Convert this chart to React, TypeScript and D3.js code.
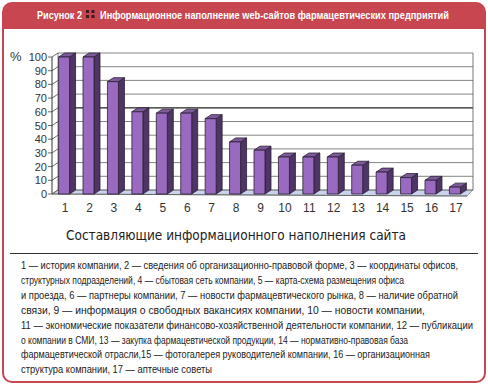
import { scaleBand, scaleLinear } from 'd3'

const categories = ['1', '2', '3', '4', '5', '6', '7', '8', '9', '10', '11', '12', '13', '14', '15', '16', '17']
const values = [100, 100, 82, 60, 59, 59, 55, 38, 32, 27, 27, 27, 21, 16, 12, 10, 5]
const yTicks = [0, 10, 20, 30, 40, 50, 60, 70, 80, 90, 100]

const title = 'Рисунок 2'
const titleRest = 'Информационное наполнение web-сайтов фармацевтических предприятий'
const axisTitle = 'Составляющие информационного наполнения сайта'
const notes = [
	'1 — история компании, 2 — сведения об организационно-правовой форме, 3 — координаты офисов,',
	'структурных подразделений, 4 — сбытовая сеть компании, 5 — карта-схема размещения офиса',
	'и проезда, 6 — партнеры компании, 7 — новости фармацевтического рынка, 8 — наличие обратной',
	'связи, 9 — информация о свободных вакансиях компании, 10 — новости компании,',
	'11 — экономические показатели финансово-хозяйственной деятельности компании, 12 — публикации',
	'о компании в СМИ, 13 — закупка фармацевтической продукции, 14 — нормативно-правовая база',
	'фармацевтической отрасли,15 — фотогалерея руководителей компании, 16 — организационная',
	'структура компании, 17 — аптечные советы',
]
const noteWidths = [437, 383, 437, 404, 452, 387, 409, 191]

const red = '#c7464f'
const narrow = 'Liberation Sans Narrow, Arial Narrow, Arial, sans-serif'
const dx = 6
const dy = -4

export default function App() {
	const x = scaleBand().domain(categories).range([52, 467]).paddingInner(0.55).paddingOuter(0.27)
	const y = scaleLinear().domain([0, 100]).range([194, 57])
	const w = x.bandwidth()
	const y0 = y(0)
	const left = 52
	const right = 467

	return (
		<svg width={488} height={385} style={{ position: 'absolute', left: 0, top: 0 }} fontFamily='Arial, Liberation Sans, sans-serif'>
			{/* frame + header band */}
			<rect x={3} y={3} width={482} height={379} rx={9} fill='#fff' stroke={red} strokeWidth={2} />
			<path d='M3,29 V12 Q3,3 12,3 H476 Q485,3 485,12 V29 Z' fill={red} />
			<text x={37} y={19} fill='#fff' fontSize={11} fontWeight='bold' fontFamily={narrow} textLength={45} lengthAdjust='spacingAndGlyphs'>{title}</text>
			{[[86, 10], [86, 15], [91.5, 10], [91.5, 15]].map(([sx, sy], i) => (
				<rect key={i} x={sx} y={sy} width={3} height={3} fill='#3b1a20' />
			))}
			<text x={100} y={19} fill='#fff' fontSize={11} fontWeight='bold' fontFamily={narrow} textLength={349} lengthAdjust='spacingAndGlyphs'>{titleRest}</text>

			{/* floor */}
			<path d={`M${left},${y0} L${left + dx},${y0 + dy} L${right + dx},${y0 + dy} L${right},${y0 + 2} Z`} fill='#c9d4ec' stroke='#777' strokeWidth={0.6} />

			{/* back wall grid */}
			{yTicks.map((t) => (
				<g key={t}>
					<line x1={left + dx} x2={right + dx} y1={y(t) + dy} y2={y(t) + dy} stroke={t === 60 ? '#222' : '#666'} strokeWidth={t === 60 ? 1.2 : 0.8} />
					<line x1={left} x2={left + dx} y1={y(t)} y2={y(t) + dy} stroke='#444' strokeWidth={0.8} />
					<line x1={left - 4} x2={left} y1={y(t)} y2={y(t)} stroke='#444' strokeWidth={0.8} />
					<text x={47} y={y(t) + 4} textAnchor='end' fontSize={11} fill='#333'>{t}</text>
				</g>
			))}
			<line x1={left + dx} x2={left + dx} y1={y(100) + dy} y2={y0 + dy} stroke='#666' strokeWidth={0.8} />
			<line x1={right + dx} x2={right + dx} y1={y(100) + dy} y2={y0 + dy} stroke='#555' strokeWidth={0.8} />
			<line x1={left} x2={left} y1={y(100)} y2={y0} stroke='#333' strokeWidth={1} />
			<line x1={left} x2={right} y1={y0} y2={y0 + 2} stroke='#555' strokeWidth={0.8} />
			<text x={10} y={61} fontSize={13} fill='#333'>%</text>

			{/* bars */}
			{categories.map((c, i) => {
				const bx = x(c)!
				const by = y(values[i])
				return (
					<g key={c} stroke='#2a1f33' strokeWidth={0.8} strokeLinejoin='round'>
						<path d={`M${bx + w},${by} L${bx + w + dx},${by + dy} L${bx + w + dx},${y0 + dy} L${bx + w},${y0} Z`} fill='#4f3466' />
						<path d={`M${bx},${by} L${bx + dx},${by + dy} L${bx + w + dx},${by + dy} L${bx + w},${by} Z`} fill='#7d5a9a' />
						<rect x={bx} y={by} width={w} height={y0 - by} fill='#9a6ac0' />
					</g>
				)
			})}

			{/* category labels */}
			{categories.map((c) => (
				<text key={c} x={x(c)! + w / 2 + 1} y={212} textAnchor='middle' fontSize={12} fill='#333'>{c}</text>
			))}

			<text x={66} y={240} fontSize={14} fill='#222' fontFamily='DejaVu Sans, sans-serif' textLength={340} lengthAdjust='spacingAndGlyphs'>{axisTitle}</text>

			<line x1={10} x2={478} y1={253.5} y2={253.5} stroke='#333' strokeWidth={1} />

			{notes.map((n, i) => (
				<text key={i} x={21} y={269 + i * 14.9} fontSize={10.5} fill='#222' fontFamily={narrow} textLength={noteWidths[i]} lengthAdjust='spacingAndGlyphs'>{n}</text>
			))}
		</svg>
	)
}
